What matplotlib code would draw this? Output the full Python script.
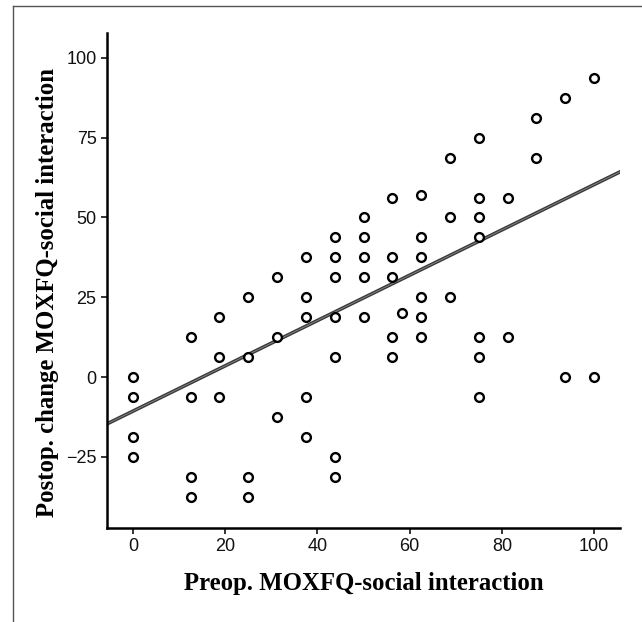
import numpy as np
import matplotlib.pyplot as plt
from matplotlib.lines import Line2D

# preop score and postop change
preop = [0, 0, 0, 0,
         12.5, 12.5, 12.5, 12.5,
         18.75, 18.75, 18.75,
         25, 25, 25, 25,
         31.25, 31.25, 31.25,
         37.5, 37.5, 37.5, 37.5, 37.5,
         43.75, 43.75, 43.75, 43.75, 43.75, 43.75, 43.75,
         50, 50, 50, 50, 50,
         56.25, 56.25, 56.25, 56.25, 56.25,
         58.3,
         62.5, 62.5, 62.5, 62.5, 62.5, 62.5,
         68.75, 68.75, 68.75,
         75, 75, 75, 75, 75, 75, 75,
         81.25, 81.25,
         87.5, 87.5,
         93.75, 93.75,
         100, 100]
change = [0, -6.25, -18.75, -25,
          12.5, -6.25, -31.25, -37.5,
          18.75, 6.25, -6.25,
          25, 6.25, -31.25, -37.5,
          31.25, 12.5, -12.5,
          37.5, 25, 18.75, -6.25, -18.75,
          43.75, 37.5, 31.25, 18.75, 6.25, -25, -31.25,
          50, 43.75, 37.5, 31.25, 18.75,
          56.25, 37.5, 31.25, 12.5, 6.25,
          20,
          57, 43.75, 37.5, 25, 18.75, 12.5,
          68.75, 50, 25,
          75, 56.25, 50, 43.75, 12.5, 6.25, -6.25,
          56.25, 12.5,
          81.25, 68.75,
          87.5, 0,
          93.75, 0]

# fit line
fit_intercept = -10.7
fit_slope = 0.71

fig = plt.figure(figsize=(6.42, 6.22), dpi=100)
ax = fig.add_axes([0.1667, 0.1511, 0.7990, 0.7959])

ax.scatter(preop, change, s=40, facecolors="white", edgecolors="black",
           linewidths=1.7, zorder=3)

xlim = (-5.6, 105.6)
ax.set_xlim(xlim)
ax.set_ylim(-47.3, 107.8)
xs = np.array(xlim)
ax.plot(xs, fit_intercept + fit_slope * xs, color="#3a3a3a", lw=2.6, zorder=2)
ax.plot(xs, fit_intercept + fit_slope * xs, color="#8a8a8a", lw=0.6, zorder=2)

ax.set_xticks([0, 20, 40, 60, 80, 100])
ax.set_yticks([-25, 0, 25, 50, 75, 100])
ax.tick_params(direction="out", length=4, width=1.2, labelsize=13,
               colors="#111111")
for lab in ax.get_xticklabels() + ax.get_yticklabels():
    lab.set_family("Liberation Sans")

ax.spines["top"].set_visible(False)
ax.spines["right"].set_visible(False)
ax.spines["left"].set_linewidth(1.8)
ax.spines["bottom"].set_linewidth(1.8)

ax.set_xlabel("Preop. MOXFQ-social interaction", family="Liberation Serif",
              fontweight="bold", fontsize=17.8, labelpad=12)
ax.set_ylabel("Postop. change MOXFQ-social interaction", family="Liberation Serif",
              fontweight="bold", fontsize=17.8, labelpad=5)
# label sits a little below the middle of the axis in the original
ax.yaxis.label.set_y(0.475)

# thin frame around the picture (left and top edges)
fig.add_artist(Line2D([13 / 642, 13 / 642], [0, 1 - 6 / 622], color="#555555",
                      lw=1.0, transform=fig.transFigure))
fig.add_artist(Line2D([13 / 642, 1], [1 - 6 / 622, 1 - 6 / 622], color="#555555",
                      lw=1.0, transform=fig.transFigure))

plt.savefig("out.png", dpi=100)
